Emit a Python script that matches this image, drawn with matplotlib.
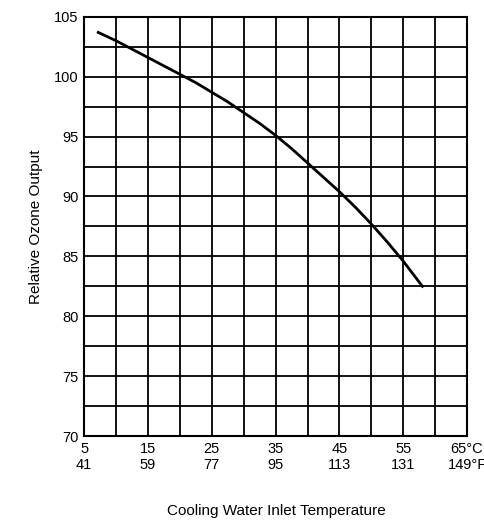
import matplotlib
matplotlib.use("Agg")
import matplotlib.pyplot as plt

temp_c = [7.2, 10, 12.5, 15, 17.5, 20, 22.5, 25, 27.5, 30, 32.5, 35, 37.5, 40, 42.5, 45, 47.5, 50, 52.5, 55, 58]
ozone = [103.7, 103.0, 102.3, 101.6, 100.9, 100.2, 99.5, 98.7, 97.9, 97.0, 96.1, 95.1, 94.0, 92.8, 91.6, 90.4, 89.1, 87.7, 86.2, 84.6, 82.5]
xtick_c = [5, 15, 25, 35, 45, 55, 65]
xtick_labels = ["5\n41", "15\n59", "25\n77", "35\n95", "45\n113", "55\n131", "65°C\n149°F"]
ytick = [70, 75, 80, 85, 90, 95, 100, 105]

plt.rcParams['font.family'] = ['Liberation Sans', 'DejaVu Sans']
fig = plt.figure(figsize=(4.84, 5.26), dpi=100)
ax = fig.add_axes([0.174, 0.171, 0.791, 0.797])
ax.set_xlim(5, 65)
ax.set_ylim(70, 105)
ax.set_xticks(xtick_c)
ax.set_xticklabels(xtick_labels, fontsize=10.5)
ax.set_xticks([5 + 5 * i for i in range(13)], minor=True)
ax.set_yticks(ytick)
ax.set_yticklabels([str(v) for v in ytick], fontsize=10.5)
ax.set_yticks([70 + 2.5 * i for i in range(15)], minor=True)
ax.grid(True, which='both', color='black', linewidth=1.3)
ax.tick_params(which='both', length=0, pad=4)
ax.get_xticklabels()[-1].set_x(64.2)
for s in ax.spines.values():
    s.set_linewidth(1.5)
ax.plot(temp_c, ozone, color='black', linewidth=2)
ax.set_ylabel("Relative Ozone Output", fontsize=11, labelpad=8)
fig.text(0.57, 0.02, "Cooling Water Inlet Temperature", ha='center', fontsize=11)
fig.savefig("out.png", dpi=100)
